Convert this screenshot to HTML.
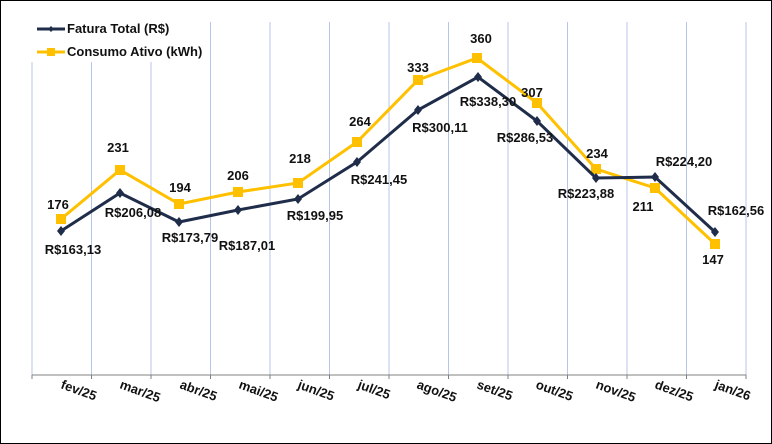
<!DOCTYPE html><html><head><style>body{margin:0;background:#fff}svg{display:block}text{font-family:"Liberation Sans",sans-serif;font-weight:bold;font-size:13px;fill:#111}</style></head><body>
<svg width="772" height="444" viewBox="0 0 772 444">
<rect x="0.5" y="0.5" width="771" height="443" fill="#fff" stroke="#000"/>
<g stroke="#b4c6e7" stroke-width="1">
<line x1="32" y1="62" x2="32" y2="375"/><line x1="91.5" y1="62" x2="91.5" y2="375"/><line x1="151" y1="62" x2="151" y2="375"/><line x1="210.5" y1="22" x2="210.5" y2="375"/><line x1="270" y1="22" x2="270" y2="375"/><line x1="329.5" y1="22" x2="329.5" y2="375"/><line x1="389" y1="22" x2="389" y2="375"/><line x1="448.5" y1="22" x2="448.5" y2="375"/><line x1="508" y1="22" x2="508" y2="375"/><line x1="567.5" y1="22" x2="567.5" y2="375"/><line x1="627" y1="22" x2="627" y2="375"/><line x1="686.5" y1="22" x2="686.5" y2="375"/><line x1="746" y1="22" x2="746" y2="375"/>
</g>
<line x1="32" y1="375" x2="746" y2="375" stroke="#808080"/>
<g stroke="#808080"><line x1="32" y1="375" x2="32" y2="379"/><line x1="91.5" y1="375" x2="91.5" y2="379"/><line x1="151" y1="375" x2="151" y2="379"/><line x1="210.5" y1="375" x2="210.5" y2="379"/><line x1="270" y1="375" x2="270" y2="379"/><line x1="329.5" y1="375" x2="329.5" y2="379"/><line x1="389" y1="375" x2="389" y2="379"/><line x1="448.5" y1="375" x2="448.5" y2="379"/><line x1="508" y1="375" x2="508" y2="379"/><line x1="567.5" y1="375" x2="567.5" y2="379"/><line x1="627" y1="375" x2="627" y2="379"/><line x1="686.5" y1="375" x2="686.5" y2="379"/><line x1="746" y1="375" x2="746" y2="379"/></g>
<polyline fill="none" stroke="#ffc000" stroke-width="3" points="61,219 120,170 179,204 238,192 298,183 357,142 418,80 477,58 537,103 596,169 655,188 715,244"/>
<g fill="#ffc000"><rect x="56" y="214" width="10" height="10"/><rect x="115" y="165" width="10" height="10"/><rect x="174" y="199" width="10" height="10"/><rect x="233" y="187" width="10" height="10"/><rect x="293" y="178" width="10" height="10"/><rect x="352" y="137" width="10" height="10"/><rect x="413" y="75" width="10" height="10"/><rect x="472" y="53" width="10" height="10"/><rect x="532" y="98" width="10" height="10"/><rect x="591" y="164" width="10" height="10"/><rect x="650" y="183" width="10" height="10"/><rect x="710" y="239" width="10" height="10"/></g>
<polyline fill="none" stroke="#1f2d4a" stroke-width="3" points="61,231 120,193 179,222 238,210 298,199 357,162 418,110 478,77 537,121 596,178 655,177 715,232"/>
<g fill="#1f2d4a"><path d="M61 226l4 5-4 5-4-5z"/><path d="M120 188l4 5-4 5-4-5z"/><path d="M179 217l4 5-4 5-4-5z"/><path d="M238 205l4 5-4 5-4-5z"/><path d="M298 194l4 5-4 5-4-5z"/><path d="M357 157l4 5-4 5-4-5z"/><path d="M418 105l4 5-4 5-4-5z"/><path d="M478 72l4 5-4 5-4-5z"/><path d="M537 116l4 5-4 5-4-5z"/><path d="M596 173l4 5-4 5-4-5z"/><path d="M655 172l4 5-4 5-4-5z"/><path d="M715 227l4 5-4 5-4-5z"/></g>
<g text-anchor="middle">
<text x="58" y="209">176</text><text x="118" y="152">231</text><text x="180" y="192">194</text><text x="238" y="180">206</text><text x="300" y="163">218</text><text x="360" y="126">264</text><text x="418" y="72">333</text><text x="481" y="43">360</text><text x="532" y="97">307</text><text x="597" y="158">234</text><text x="643" y="211">211</text><text x="713" y="264">147</text>
<text x="73" y="254">R$163,13</text><text x="133" y="217">R$206,08</text><text x="190" y="242">R$173,79</text><text x="247" y="250">R$187,01</text><text x="315" y="220">R$199,95</text><text x="379" y="184">R$241,45</text><text x="440" y="132">R$300,11</text><text x="488" y="106">R$338,30</text><text x="525" y="142">R$286,53</text><text x="586" y="198">R$223,88</text><text x="684" y="166">R$224,20</text><text x="736" y="215">R$162,56</text>
</g>
<g font-size="11">
<text transform="translate(60,388) rotate(20)">fev/25</text><text transform="translate(119,388) rotate(20)">mar/25</text><text transform="translate(179,388) rotate(20)">abr/25</text><text transform="translate(238,388) rotate(20)">mai/25</text><text transform="translate(297,388) rotate(20)">jun/25</text><text transform="translate(357,388) rotate(20)">jul/25</text><text transform="translate(416,388) rotate(20)">ago/25</text><text transform="translate(476,388) rotate(20)">set/25</text><text transform="translate(535,388) rotate(20)">out/25</text><text transform="translate(595,388) rotate(20)">nov/25</text><text transform="translate(654,388) rotate(20)">dez/25</text><text transform="translate(714,388) rotate(20)">jan/26</text>
</g>
<line x1="37" y1="29" x2="65" y2="29" stroke="#1f2d4a" stroke-width="3"/><path d="M51 26l3 3-3 3-3-3z" fill="#1f2d4a"/>
<text x="67" y="33" font-size="11">Fatura Total (R$)</text>
<line x1="37" y1="52" x2="65" y2="52" stroke="#ffc000" stroke-width="3"/><rect x="47" y="48" width="8" height="8" fill="#ffc000"/>
<text x="67" y="56" font-size="11">Consumo Ativo (kWh)</text>
</svg></body></html>
